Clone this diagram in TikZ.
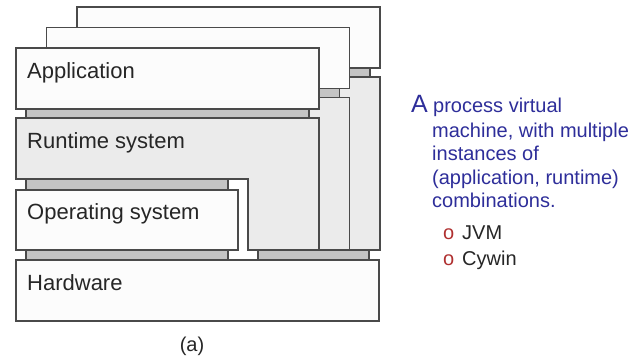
\documentclass[tikz,border=0pt]{standalone}
\usepackage{fontspec}
\setmainfont{Liberation Sans}
\definecolor{edge}{HTML}{4A4A4A}
\definecolor{appfill}{HTML}{FCFCFC}
\definecolor{rtfill}{HTML}{EBEBEB}
\definecolor{ifill}{HTML}{C4C4C4}
\definecolor{navy}{HTML}{2E2E9A}
\definecolor{bulletred}{HTML}{B03030}
\tikzset{
  box/.style={draw=edge, line width=1.2pt, fill=appfill},
  rtbox/.style={draw=edge, line width=1.2pt, fill=rtfill},
  iface/.style={draw=edge, line width=1.2pt, fill=ifill},
  lbl/.style={anchor=base west, inner sep=0pt, font=\fontsize{22}{24}\selectfont, text=black!85},
  desc/.style={anchor=base west, inner sep=0pt, font=\fontsize{20}{22}\selectfont, text=navy},
  item/.style={anchor=base west, inner sep=0pt, font=\fontsize{20}{22}\selectfont, text=black!85},
  bul/.style={anchor=base west, inner sep=0pt, font=\fontsize{20}{22}\selectfont, text=bulletred},
}
\begin{document}
\begin{tikzpicture}[x=1pt,y=-1pt]
\useasboundingbox (0,0) rectangle (637,360);
\fill[white] (0,0) rectangle (637,360);
% three stacked instances, back to front
\foreach \k/\dx/\dy in {2/61/-41, 1/30.5/-20.5, 0/0/0}{
  \draw[box] (16+\dx,48+\dy) rectangle (319+\dx,109+\dy);
  \draw[iface] (26+\dx,109+\dy) rectangle (309+\dx,118+\dy);
  \draw[rtbox] (16+\dx,118+\dy) -- (319+\dx,118+\dy) -- (319+\dx,250)
     -- (248+\dx,250) -- (248+\dx,179+\dy) -- (16+\dx,179+\dy) -- cycle;
}
% OS and its interfaces
\draw[iface] (26,179) rectangle (228,190);
\draw[box] (16,190) rectangle (238,250);
\draw[iface] (26,250) rectangle (228,260);
\draw[iface] (258,250) rectangle (369,260);
% hardware
\draw[box] (16,260) rectangle (379,321);
% labels
\node[lbl] (app) at (27,78.3) {Application};
\node[lbl] (rt) at (27,148.3) {Runtime system};
\node[lbl] (os) at (27,219.3) {Operating system};
\node[lbl] (hw) at (27,290) {Hardware};
\node[anchor=base, inner sep=0pt, font=\fontsize{20}{22}\selectfont, text=black!85] (cap) at (192,351.5) {(a)};
% description
\node[anchor=base west, inner sep=0pt, font=\fontsize{25}{27}\selectfont, text=navy] (bigA) at (411,112.7) {A};
\node[desc] (d1) at (433,112.7) {process virtual};
\node[desc] (d2) at (432,137) {machine, with multiple};
\node[desc] (d3) at (432,160.5) {instances of};
\node[desc] (d4) at (432,184) {(application, runtime)};
\node[desc] (d5) at (432,207) {combinations.};
\node[bul] (b1) at (443,239) {o};
\node[item] (i1) at (462,239) {JVM};
\node[bul] (b2) at (443,265) {o};
\node[item] (i2) at (462,265) {Cywin};
\end{tikzpicture}
\end{document}
